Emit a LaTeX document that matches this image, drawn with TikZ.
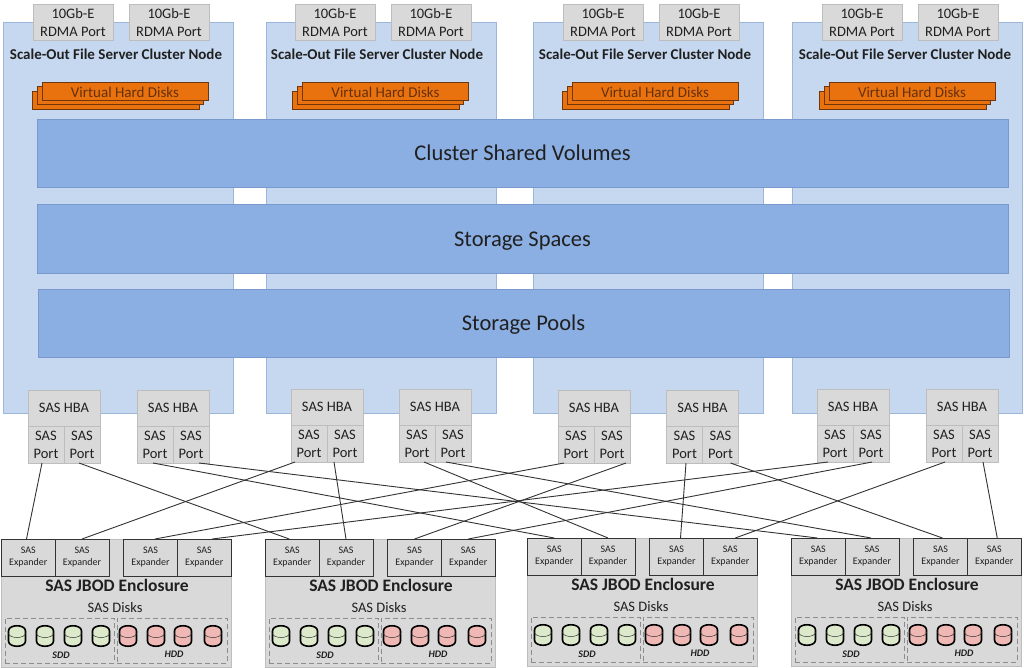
\documentclass[tikz,border=0pt]{standalone}
\usepackage{fontspec}
\setmainfont{Carlito}
\definecolor{nodefill}{HTML}{C6D8EF}
\definecolor{nodeline}{HTML}{9DB5D8}
\definecolor{bandfill}{HTML}{8BAFE2}
\definecolor{bandline}{HTML}{7898CE}
\definecolor{grayfill}{HTML}{D9D9D9}
\definecolor{grayline}{HTML}{BDBDBD}
\definecolor{vhdfill}{HTML}{E9720F}
\definecolor{vhdline}{HTML}{70360C}
\definecolor{ssdfill}{HTML}{DDE9CB}
\definecolor{hddfill}{HTML}{EFB8B4}
\definecolor{txt}{HTML}{202020}
\tikzset{
  box/.style={draw,inner sep=0pt,outer sep=0pt,align=center,text=txt},
  clusternode/.style={box,fill=nodefill,draw=nodeline,line width=1pt},
  band/.style={box,fill=bandfill,draw=bandline,line width=1pt,font=\fontsize{22.5}{26}\selectfont,text height=16pt,text depth=2pt},
  rdma/.style={box,fill=grayfill,draw=grayline,line width=1pt,font=\fontsize{14.5}{18}\selectfont},
  vhd/.style={box,fill=vhdfill,draw=vhdline,line width=1pt,text=vhdline!90!black,font=\fontsize{15}{18}\selectfont},
  expander/.style={box,fill=grayfill,draw=black!80,line width=1pt,font=\fontsize{10}{12}\selectfont},
  enclosure/.style={box,fill=grayfill,draw=grayline,line width=1pt},
  groupbox/.style={box,draw=black!45,line width=.8pt,dash pattern=on 5pt off 3pt},
  title/.style={inner sep=0pt,outer sep=0pt,text=txt},
  wire/.style={draw=black!80,line width=.9pt},
  disk/.style={draw=black,line width=1.6pt,line join=round}
}
\newcommand\tbx[7]{\node[#1,minimum width={((#5)-(#3))*1pt},minimum height={((#6)-(#4))*1pt}] (#2) at ({((#3)+(#5))/2},{((#4)+(#6))/2}) {#7};}
\newcommand\cluster[6]{% name x port-left1 port-left2 title-centre vhd-centre
  \tbx{clusternode}{#1}{#2}{23}{#2+230}{413}{}
  \tbx{rdma}{#1p}{#3}{5}{#3+80}{41}{10Gb-E\\RDMA Port}
  \tbx{rdma}{#1q}{#4}{5}{#4+80}{41}{10Gb-E\\RDMA Port}
  \node[title,font=\fontsize{15}{18}\bfseries\selectfont] (#1t) at (#5,54) {Scale-Out File Server Cluster Node};
  \tbx{vhd}{#1v}{#6-93}{91.5}{#6+74}{109.5}{}
  \tbx{vhd}{#1w}{#6-88}{87}{#6+78}{105}{}
  \tbx{vhd}{#1x}{#6-83}{83}{#6+83}{101}{Virtual Hard Disks}
}
\newcommand\hba[3]{% name x y
  \tbx{rdma}{#1}{#2}{#3}{#2+72}{#3+36}{SAS HBA}
  \tbx{rdma}{#1a}{#2}{#3+36}{#2+36}{#3+73}{SAS\\Port}
  \tbx{rdma}{#1b}{#2+36}{#3+36}{#2+72}{#3+73}{SAS\\Port}
}
\newcommand\onedisk[2]{%
  \begin{scope}[shift={(#1,636)}]
    \path[disk,fill=#2] (-8.5,-5) -- (-8.5,5) .. controls (-8.5,12) and (8.5,12) .. (8.5,5) -- (8.5,-5) .. controls (8.5,-12) and (-8.5,-12) .. cycle;
    \draw[line width=.5pt,draw=black!80] (-8.5,-3) .. controls (-8.5,3) and (8.5,3) .. (8.5,-3);
  \end{scope}
}
\newcommand\enc[3]{% name xoffset yoffset
  \begin{scope}[shift={(#2,#3)}]
    \tbx{enclosure}{#1}{1.5}{539}{231}{667}{}
    \tbx{expander}{#1a}{1.5}{539}{55}{576}{SAS\\Expander}
    \tbx{expander}{#1b}{55}{539}{109}{576}{SAS\\Expander}
    \tbx{expander}{#1c}{123.5}{539}{177.5}{576}{SAS\\Expander}
    \tbx{expander}{#1d}{177.5}{539}{231}{576}{SAS\\Expander}
    \node[title,font=\fontsize{17.5}{21}\bfseries\selectfont] (#1t) at (117,585.5) {SAS JBOD Enclosure};
    \node[title,font=\fontsize{14.5}{18}\selectfont] (#1u) at (115,608) {SAS Disks};
    \tbx{groupbox}{#1s}{5}{618}{114}{663}{}
    \tbx{groupbox}{#1h}{117}{618}{227}{663}{}
    \foreach \c in {17,45,73,101}{\onedisk{\c}{ssdfill}}
    \foreach \c in {128,156,183,213}{\onedisk{\c}{hddfill}}
    \node[title,font=\fontsize{10}{12}\bfseries\itshape\selectfont] (#1v) at (61,655) {SDD};
    \node[title,font=\fontsize{10}{12}\bfseries\itshape\selectfont] (#1w) at (174,654) {HDD};
  \end{scope}
}
\newcommand\wirefrom[4]{\draw[wire] ([xshift=#2pt]#1.south) -- ([xshift=#4pt]#3.north);}
\begin{document}
\begin{tikzpicture}[x=1pt,y=-1pt]
\useasboundingbox (0,0) rectangle (1024,668);
\fill[white] (0,0) rectangle (1024,668);
\cluster{na}{3}{33}{129}{116}{125}
\cluster{nb}{266.5}{295}{391}{377}{385.5}
\cluster{nc}{533.5}{563}{659}{645}{655}
\cluster{nd}{792.5}{822}{918}{905}{912}
\tbx{band}{csv}{37}{120}{1008}{188}{Cluster Shared Volumes}
\tbx{band}{spaces}{37}{205}{1008}{273}{Storage Spaces}
\tbx{band}{pools}{38}{289}{1009}{357}{Storage Pools}
\hba{ha}{28}{390}
\hba{hb}{137}{390}
\hba{hc}{291}{389}
\hba{hd}{399}{389}
\hba{he}{558}{390}
\hba{hf}{666.5}{390}
\hba{hg}{817}{389}
\hba{hh}{926}{389}
\enc{ea}{0}{0}
\enc{eb}{264}{0}
\enc{ec}{526}{-1}
\enc{ed}{790}{-1}
\wirefrom{haa}{-4}{eaa}{-1.75}
\wirefrom{hab}{-3}{eba}{-3}
\wirefrom{hba}{-2}{eca}{0}
\wirefrom{hbb}{8}{eda}{-1}
\wirefrom{hca}{-14}{eab}{0}
\wirefrom{hcb}{-11}{ebb}{0}
\wirefrom{hda}{7}{ecb}{0}
\wirefrom{hdb}{-7}{edb}{-1}
\wirefrom{hea}{-12}{eac}{4.5}
\wirefrom{heb}{14}{ebc}{0}
\wirefrom{hfa}{1.5}{ecc}{4}
\wirefrom{hfb}{10}{edc}{2}
\wirefrom{hga}{-7}{ead}{8}
\wirefrom{hgb}{1}{ebd}{0}
\wirefrom{hha}{1}{ecd}{5}
\wirefrom{hhb}{3}{edd}{3}
\end{tikzpicture}
\end{document}
